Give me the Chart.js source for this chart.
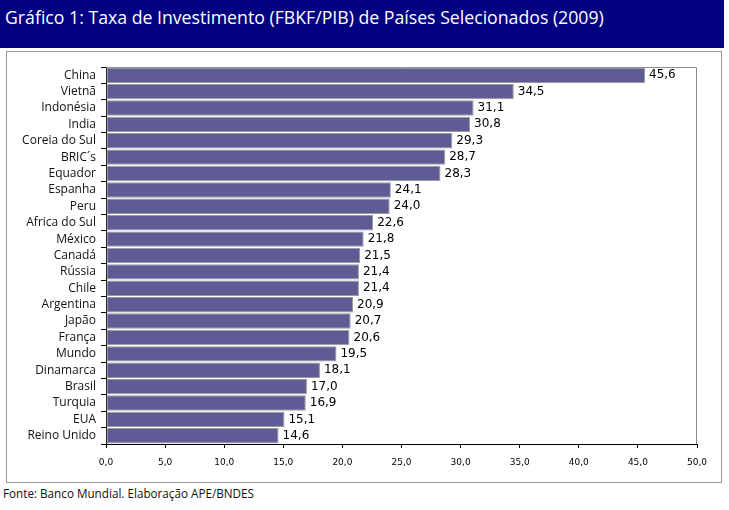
<!DOCTYPE html>
<html>
<head>
<meta charset="utf-8">
<script src="https://cdn.jsdelivr.net/npm/chart.js@4"></script>
<style>
  html, body { margin: 0; padding: 0; background: #fff; }
  body { width: 729px; height: 510px; position: relative; overflow: hidden; }
  #title { position: absolute; left: 0; top: 0; width: 724px; height: 48px; background: #000080; color: #fff;
    font-family: "Open Sans", sans-serif; font-size: 17.7px; line-height: 34px; padding-left: 5px; box-sizing: border-box; white-space: nowrap; }
  #frame { position: absolute; left: 6px; top: 51px; width: 716px; height: 432px; border: 1px solid #9a9a9a; box-sizing: border-box; }
  #wrap { position: absolute; left: 7px; top: 52px; width: 715px; height: 431px; }
  #foot { position: absolute; left: 3px; top: 485px; font-family: "Open Sans", sans-serif; font-size: 11.7px; color: #111; white-space: nowrap; }
</style>
</head>
<body>
<div id="title">Gráfico 1: Taxa de Investimento (FBKF/PIB) de Países Selecionados (2009)</div>
<div id="frame"></div>
<div id="wrap"><canvas id="c"></canvas></div>
<div id="foot">Fonte: Banco Mundial. Elaboração APE/BNDES</div>
<script>
const countries = ["China","Vietnã","Indonésia","India","Coreia do Sul","BRIC´s","Equador","Espanha","Peru","Africa do Sul","México","Canadá","Rússia","Chile","Argentina","Japão","França","Mundo","Dinamarca","Brasil","Turquia","EUA","Reino Unido"];
const investmentRate = [45.6,34.5,31.1,30.8,29.3,28.7,28.3,24.1,24.0,22.6,21.8,21.5,21.4,21.4,20.9,20.7,20.6,19.5,18.1,17.0,16.9,15.1,14.6];
const xTicks = [0,5,10,15,20,25,30,35,40,45,50];

const fmt = v => v.toFixed(1).replace('.', ',');

const framePlugin = {
  id: 'framePlugin',
  beforeDatasetsDraw(chart) {
    const {ctx, chartArea: a} = chart;
    ctx.save();
    ctx.strokeStyle = '#8c8c8c';
    ctx.lineWidth = 1;
    ctx.beginPath();
    ctx.moveTo(a.left, a.top + 0.5);
    ctx.lineTo(a.right - 0.5, a.top + 0.5);
    ctx.lineTo(a.right - 0.5, a.bottom);
    ctx.stroke();
    ctx.restore();
  },
  afterDatasetsDraw(chart) {
    const {ctx} = chart;
    const meta = chart.getDatasetMeta(0);
    ctx.save();
    ctx.font = '12px "DejaVu Sans", Verdana, sans-serif';
    ctx.fillStyle = '#000';
    ctx.textAlign = 'left';
    ctx.textBaseline = 'middle';
    meta.data.forEach((bar, i) => {
      ctx.fillText(fmt(investmentRate[i]), bar.x + 4, bar.y);
    });
    ctx.restore();
  }
};

new Chart(document.getElementById('c'), {
  type: 'bar',
  data: {
    labels: countries,
    datasets: [{
      data: investmentRate,
      backgroundColor: '#5f5b94',
      borderColor: '#9a9a9a',
      borderWidth: 1,
      borderSkipped: false,
      barPercentage: 0.94,
      categoryPercentage: 1.0
    }]
  },
  options: {
    indexAxis: 'y',
    responsive: true,
    maintainAspectRatio: false,
    animation: false,
    layout: { padding: { top: 15, right: 25, left: 0, bottom: 0 } },
    plugins: { legend: { display: false }, tooltip: { enabled: false } },
    scales: {
      x: {
        min: 0, max: 50,
        afterBuildTicks(scale) { scale.ticks = xTicks.map(v => ({value: v})); },
        afterFit(scale) { scale.height = 39; },
        grid: { drawOnChartArea: false, tickLength: 4, color: '#000', lineWidth: 1 },
        border: { color: '#000', width: 1 },
        ticks: {
          callback: v => fmt(v),
          font: { family: '"DejaVu Sans", Verdana, sans-serif', size: 9 },
          color: '#000',
          padding: 9,
          maxRotation: 0
        }
      },
      y: {
        afterFit(scale) { scale.width = 99; },
        grid: { drawOnChartArea: false, tickLength: 5, color: '#000', offset: true },
        border: { color: '#000', width: 1 },
        ticks: {
          font: { family: '"Open Sans", sans-serif', size: 12 },
          color: '#111',
          padding: 5,
          autoSkip: false
        }
      }
    }
  },
  plugins: [framePlugin]
});
</script>
</body>
</html>
